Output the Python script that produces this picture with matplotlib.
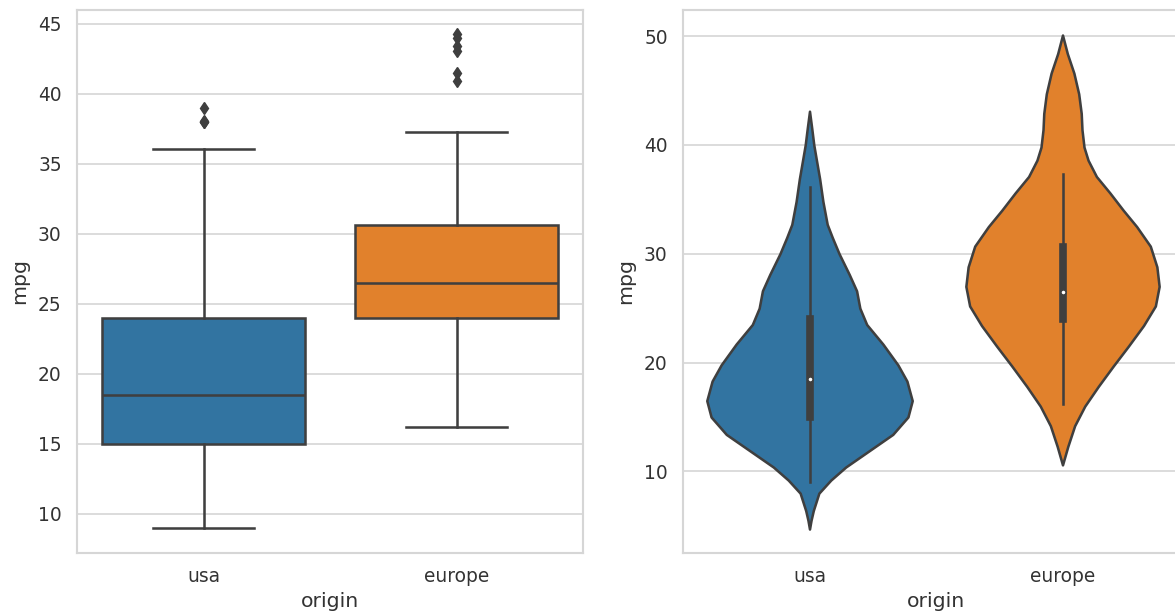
import matplotlib
matplotlib.use("Agg")
import matplotlib.pyplot as plt

# categories and colours
origins = ["usa", "europe"]
colors = ["#3274a1", "#e1812c"]
gray = "#3f3f3f"

# box plot summary (mpg)
q1 = [15.0, 24.0]
medians = [18.5, 26.5]
q3 = [24.0, 30.65]
whis_lo = [9.0, 16.2]
whis_hi = [36.1, 37.3]
fliers = [[38.0, 38.0, 38.1, 39.0], [40.9, 41.5, 43.1, 43.4, 44.0, 44.3]]

# violin outlines: mpg level -> half width
usa_mpg = [4.7, 5.5, 6.4, 8.0, 9.2, 10.4, 11.9, 13.4, 15.0, 16.5, 18.3, 19.8,
           21.7, 23.5, 25.0, 26.6, 28.1, 30.0, 31.5, 32.7, 34.8, 36.9, 40.0,
           41.5, 43.1]
usa_half = [0.0, 0.006, 0.015, 0.037, 0.084, 0.143, 0.236, 0.329, 0.389, 0.406,
            0.385, 0.349, 0.290, 0.226, 0.199, 0.186, 0.157, 0.117, 0.090,
            0.070, 0.053, 0.040, 0.017, 0.009, 0.0]
europe_mpg = [10.6, 12.3, 14.2, 16.0, 17.8, 19.7, 21.5, 23.4, 25.2, 27.0, 28.8,
              30.7, 32.5, 34.0, 35.6, 37.1, 38.6, 39.8, 41.4, 42.9, 44.7, 46.6,
              48.4, 50.1]
europe_half = [0.0, 0.021, 0.048, 0.088, 0.141, 0.201, 0.260, 0.320, 0.367,
               0.382, 0.373, 0.347, 0.293, 0.240, 0.187, 0.134, 0.101, 0.085,
               0.077, 0.074, 0.064, 0.045, 0.019, 0.0]

S = 1.224  # pixel scale of the reference
lw = 1.5 * S
light = "#d6d6d6"

plt.rcParams.update({
    "font.family": ["DejaVu Sans"],
    "text.color": "#333333",
    "axes.labelcolor": "#333333",
    "xtick.color": "#333333",
    "ytick.color": "#333333",
    "axes.edgecolor": light,
    "axes.linewidth": 1.25 * S,
    "grid.color": light,
    "grid.linewidth": 1.0 * S,
    "axes.axisbelow": True,
})

fig = plt.figure(figsize=(11.75, 6.12), dpi=100)
ax1 = fig.add_axes([77 / 1175, 59 / 612, 506 / 1175, 543 / 612])
ax2 = fig.add_axes([683 / 1175, 59 / 612, 506 / 1175, 543 / 612])

# left: box plot
stats = []
for i in range(2):
    stats.append({"q1": q1[i], "med": medians[i], "q3": q3[i],
                  "whislo": whis_lo[i], "whishi": whis_hi[i],
                  "fliers": fliers[i], "label": origins[i]})
bp = ax1.bxp(stats, positions=[0, 1], widths=0.8, patch_artist=True,
             boxprops={"edgecolor": gray, "linewidth": lw},
             medianprops={"color": gray, "linewidth": lw},
             whiskerprops={"color": gray, "linewidth": lw},
             capprops={"color": gray, "linewidth": lw},
             flierprops={"marker": "d", "markerfacecolor": gray,
                         "markeredgecolor": gray, "markersize": 5 * S})
for patch, c in zip(bp["boxes"], colors):
    patch.set_facecolor(c)

# right: violin plot
vpstats = [
    {"coords": usa_mpg, "vals": usa_half, "mean": medians[0], "median": medians[0],
     "min": usa_mpg[0], "max": usa_mpg[-1]},
    {"coords": europe_mpg, "vals": europe_half, "mean": medians[1], "median": medians[1],
     "min": europe_mpg[0], "max": europe_mpg[-1]},
]
vp = ax2.violin(vpstats, positions=[0, 1],
                widths=[2 * max(usa_half), 2 * max(europe_half)],
                showmeans=False, showextrema=False, showmedians=False)
for body, c in zip(vp["bodies"], colors):
    body.set_facecolor(c)
    body.set_edgecolor(gray)
    body.set_linewidth(lw)
    body.set_joinstyle("round")
    body.set_alpha(1)

for i in range(2):
    ax2.plot([i, i], [whis_lo[i], whis_hi[i]], color=gray, linewidth=lw, zorder=2)
    ax2.plot([i, i], [q1[i], q3[i]], color=gray, linewidth=lw * 3, zorder=2)
    ax2.scatter([i], [medians[i]], s=(lw * 2) ** 2, color="white",
                edgecolor=gray, linewidth=lw * 0.6, zorder=3)

for ax in (ax1, ax2):
    ax.set_xlim(-0.5, 1.5)
    ax.set_xticks([0, 1])
    ax.set_xticklabels(origins)
    ax.grid(axis="y")
    ax.grid(axis="x", visible=False)
    ax.tick_params(axis="both", length=0, labelsize=11 * S)
    ax.tick_params(axis="x", pad=10)
    ax.tick_params(axis="y", pad=11)
    ax.set_xlabel("origin", fontsize=12 * S, labelpad=4.5)
    ax.set_ylabel("mpg", fontsize=12 * S, labelpad=6.5)
    for sp in ax.spines.values():
        sp.set_color(light)

ax1.set_ylim(7.2, 46.0)
ax1.set_yticks([10, 15, 20, 25, 30, 35, 40, 45])
ax2.set_ylim(2.5, 52.4)
ax2.set_yticks([10, 20, 30, 40, 50])

fig.savefig("out.png", dpi=100)
